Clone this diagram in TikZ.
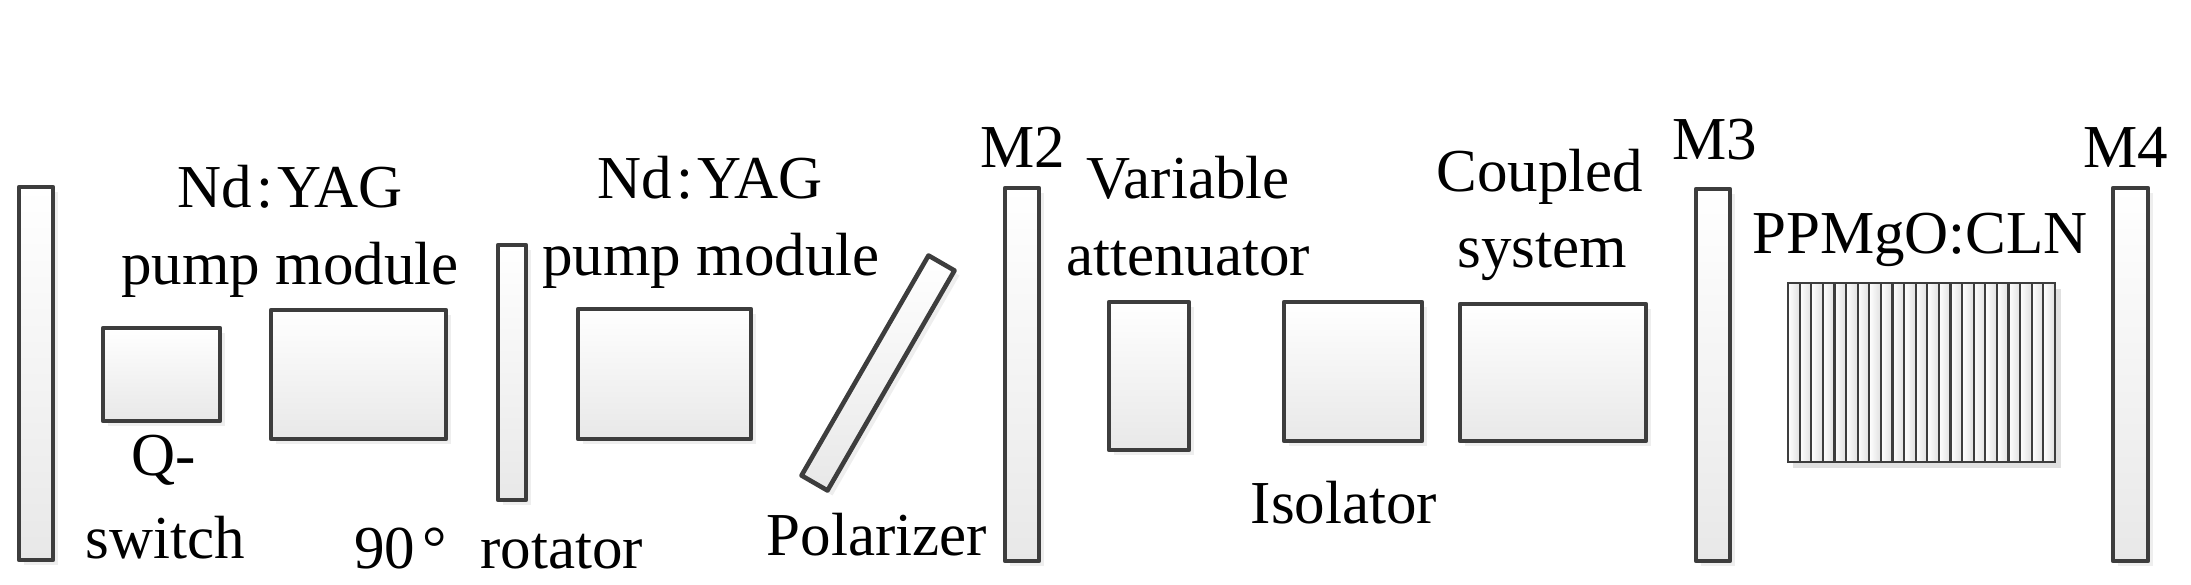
\documentclass[tikz,border=0pt]{standalone}
\usepackage{fontspec}
\setmainfont{Liberation Serif}
\usetikzlibrary{shadows}
\begin{document}
\begin{tikzpicture}[x=1pt,y=-1pt,
  part/.style={draw=black!76, line width=4.6pt, line join=round,
    top color=white, bottom color=black!9,
    drop shadow={shadow xshift=5pt, shadow yshift=-5pt, fill=black!13},
    inner sep=0pt, outer sep=0pt},
  stripe/.style={draw=black!76, line width=2.2pt, left color=white, right color=black!12,
    inner sep=0pt, outer sep=0pt, minimum width=11.6pt, minimum height=179pt},
  lbl/.style={font=\fontsize{61}{77}\selectfont, inner sep=0pt, anchor=base}
]
\useasboundingbox (0,0) rectangle (2191,584);
% mirrors
\node[part, minimum width=34pt, minimum height=373pt] (M1) at (36,373.5) {};
\node[part, minimum width=34pt, minimum height=373pt] (M2) at (1022,374.5) {};
\node[part, minimum width=34pt, minimum height=372pt] (M3) at (1713,375) {};
\node[part, minimum width=35pt, minimum height=373pt] (M4) at (2130.5,374.5) {};
% components
\node[part, minimum width=117pt, minimum height=93pt] (qsw) at (161.5,374.5) {};
\node[part, minimum width=175pt, minimum height=129pt] (mod1) at (358.5,374.5) {};
\node[part, minimum width=28pt, minimum height=255pt] (rot) at (512,372.5) {};
\node[part, minimum width=173pt, minimum height=130pt] (mod2) at (664.5,374) {};
\node[part, minimum width=254pt, minimum height=30pt, rotate=60] (pol) at (878,373) {};
\node[part, minimum width=80pt, minimum height=148pt] (att) at (1149,376) {};
\node[part, minimum width=138pt, minimum height=139pt] (iso) at (1353,371.5) {};
\node[part, minimum width=186pt, minimum height=137pt] (cpl) at (1553,372.5) {};
% PPMgO:CLN crystal
\fill[black!12] (1793,289) rectangle (2061,468);
\foreach \i in {0,...,22}
  \node[stripe] (s\i) at ({1793.8+11.6*\i},372.5) {};
\node[draw=black!76, line width=2.2pt, inner sep=0pt, minimum width=267pt, minimum height=179pt] (cry) at (1921.5,372.5) {};
% labels
\node[lbl] (tNd1) at (290,207) {Nd\kern4pt:\kern4pt YAG};
\node[lbl] (tpm1) at (290,284) {pump module};
\node[lbl] (tq1) at (164,475) {Q-};
\node[lbl] (tq2) at (165,558) {switch};
\node[lbl, anchor=base west] (trot) at (354,568) {90\kern7pt°\hspace{34pt}rotator};
\node[lbl] (tNd2) at (710,198) {Nd\kern4pt:\kern4pt YAG};
\node[lbl] (tpm2) at (711,275) {pump module};
\node[lbl] (tpol) at (877,555) {Polarizer};
\node[lbl] (tM2) at (1023,167) {M2};
\node[lbl] (tva1) at (1188,198) {Variable};
\node[lbl] (tva2) at (1188,275) {attenuator};
\node[lbl] (tiso) at (1344,523) {Isolator};
\node[lbl] (tcs1) at (1540,191) {Coupled};
\node[lbl] (tcs2) at (1542,267) {system};
\node[lbl] (tM3) at (1715,159) {M3};
\node[lbl] (tppm) at (1920,253) {PPMgO:CLN};
\node[lbl] (tM4) at (2126,167) {M4};
\end{tikzpicture}
\end{document}
